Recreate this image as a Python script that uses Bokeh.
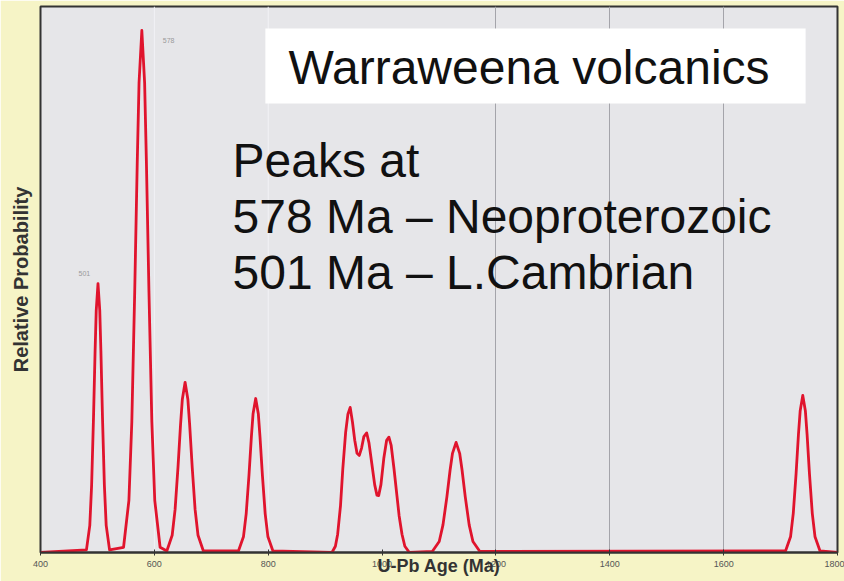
from bokeh.plotting import figure
from bokeh.models import Range1d, Label, BoxAnnotation, FixedTicker, Span
from bokeh.embed import file_html
from bokeh.resources import INLINE

# ---- data (age in Ma, relative probability; tallest peak = 1) ----
base_start_age = [400.0]
base_start_prob = [0.0]

p501_age = [480.7, 486.6, 489.8, 493.1, 495.9, 497.9, 501.0, 504.1, 506.1, 508.9, 512.2, 515.4, 521.3]
p501_prob = [0.005, 0.052, 0.129, 0.258, 0.386, 0.464, 0.515, 0.464, 0.386, 0.258, 0.129, 0.052, 0.005]

p578_age = [545.9, 555.3, 560.4, 565.5, 570.0, 573.1, 578.0, 582.9, 586.0, 590.5, 595.6, 600.7, 610.1]
p578_prob = [0.01, 0.10, 0.25, 0.50, 0.75, 0.90, 1.00, 0.90, 0.75, 0.50, 0.25, 0.10, 0.01]

p655_age = [621.9, 631.3, 636.4, 641.5, 646.0, 649.1, 654.0, 658.9, 662.0, 666.5, 671.6, 676.7, 686.1]
p655_prob = [0.003, 0.033, 0.082, 0.163, 0.245, 0.293, 0.326, 0.293, 0.245, 0.163, 0.082, 0.033, 0.003]

p780_age = [747.7, 756.5, 761.3, 766.2, 770.4, 773.4, 778.0, 782.6, 785.6, 789.8, 794.7, 799.5, 808.3]
p780_prob = [0.003, 0.030, 0.074, 0.148, 0.221, 0.266, 0.295, 0.266, 0.221, 0.148, 0.074, 0.030, 0.003]

cluster_age = [912, 918, 922, 927, 931, 936, 940, 944, 948, 952, 956, 960, 964, 968, 973, 977,
               982, 987, 991, 994, 998, 1003, 1008, 1012, 1016, 1021, 1026, 1030, 1035, 1040, 1048]
cluster_prob = [0.0, 0.012, 0.035, 0.09, 0.16, 0.23, 0.265, 0.278, 0.25, 0.215, 0.19, 0.186, 0.2,
                0.222, 0.229, 0.21, 0.17, 0.13, 0.11, 0.109, 0.13, 0.18, 0.215, 0.221, 0.205,
                0.16, 0.11, 0.07, 0.035, 0.012, 0.0]

p1130_age = [1088.2, 1100.4, 1107.0, 1113.8, 1119.5, 1123.7, 1130.0, 1136.3, 1140.5, 1146.2, 1153.0, 1159.6, 1171.8]
p1130_prob = [0.002, 0.021, 0.053, 0.106, 0.158, 0.190, 0.211, 0.190, 0.158, 0.106, 0.053, 0.021, 0.002]

p1750_age = [1708.7, 1717.5, 1722.3, 1727.2, 1731.4, 1734.4, 1739.0, 1743.6, 1746.6, 1750.8, 1755.7, 1760.5, 1769.3]
p1750_prob = [0.003, 0.030, 0.075, 0.150, 0.226, 0.271, 0.301, 0.271, 0.226, 0.150, 0.075, 0.030, 0.003]

base_end_age = [1800.0]
base_end_prob = [0.0]

x_ticks = [400, 600, 800, 1000, 1200, 1400, 1600, 1800]
grid_dark = [1200, 1400, 1600]
grid_light = [600, 800]

peak_label_text = ["501", "578"]
peak_label_age = [477, 625]
peak_label_prob = [0.534, 0.981]

title_text = "Warraweena volcanics"
note_lines = ["Peaks at", "578 Ma \u2013 Neoproterozoic", "501 Ma \u2013 L.Cambrian"]

ages = (base_start_age + p501_age + p578_age + p655_age + p780_age + cluster_age
        + p1130_age + p1750_age + base_end_age)
probs = (base_start_prob + p501_prob + p578_prob + p655_prob + p780_prob + cluster_prob
         + p1130_prob + p1750_prob + base_end_prob)

# ---- figure ----
p = figure(width=844, height=581, output_backend="svg", toolbar_location=None,
           x_range=Range1d(400, 1800), y_range=Range1d(0, 1.046),
           min_border_left=40, min_border_right=7, min_border_top=6, min_border_bottom=29)

p.background_fill_color = "#e6e6e9"
p.border_fill_color = "#f6f4c6"
p.outline_line_color = "#333333"
p.outline_line_width = 2

# grid lines
p.xgrid.ticker = FixedTicker(ticks=grid_dark)
p.xgrid.grid_line_color = "#a4a4aa"
p.xgrid.grid_line_width = 1
p.ygrid.grid_line_color = None
for g in grid_light:
    p.add_layout(Span(location=g, dimension="height", line_color="#f2f2f6", line_width=1,
                      level="underlay"))

# x axis
p.xaxis.ticker = FixedTicker(ticks=x_ticks)
p.xaxis.axis_line_color = "#333333"
p.xaxis.axis_line_width = 2
p.xaxis.major_tick_line_color = "#333333"
p.xaxis.major_tick_in = 3
p.xaxis.major_tick_out = 3
p.xaxis.minor_tick_line_color = None
p.xaxis.major_label_text_font = "Liberation Sans"
p.xaxis.major_label_text_font_size = "9px"
p.xaxis.major_label_text_color = "#555555"
p.xaxis.major_label_standoff = 5
p.xaxis.axis_label = "U-Pb Age (Ma)"
p.xaxis.axis_label_text_font = "Liberation Sans"
p.xaxis.axis_label_text_font_size = "18px"
p.xaxis.axis_label_text_font_style = "bold"
p.xaxis.axis_label_text_color = "#333333"
p.xaxis.axis_label_standoff = -14

# y axis (label only)
p.yaxis.ticker = FixedTicker(ticks=[])
p.yaxis.major_tick_line_color = None
p.yaxis.minor_tick_line_color = None
p.yaxis.axis_line_color = None
p.yaxis.axis_label = "Relative Probability"
p.yaxis.axis_label_text_font = "Liberation Sans"
p.yaxis.axis_label_text_font_size = "20px"
p.yaxis.axis_label_text_font_style = "bold"
p.yaxis.axis_label_text_color = "#333333"
p.yaxis.axis_label_standoff = 9

# curve
p.line(ages, probs, line_color="#e0142d", line_width=2.8, line_join="round")

# small peak labels
for t, a, pr in zip(peak_label_text, peak_label_age, peak_label_prob):
    p.add_layout(Label(x=a, y=pr, text=t, text_font="Liberation Sans", text_font_size="7px",
                       text_color="#9a9a9a", text_align="center", text_baseline="middle"))

# white title box
p.add_layout(BoxAnnotation(left=795, right=1744, bottom=0.860, top=1.004,
                           fill_color="white", fill_alpha=1.0, line_color=None, level="overlay"))

p.add_layout(Label(x=835.6, y=0.929, text=title_text, text_font="Liberation Sans",
                   text_font_size="48px", text_color="#111111", text_baseline="alphabetic",
                   level="overlay"))

for i, line in enumerate(note_lines):
    p.add_layout(Label(x=737.3, y=0.751 - i * 0.1075, text=line, text_font="Liberation Sans",
                       text_font_size="48px", text_color="#111111", text_baseline="alphabetic",
                       level="overlay"))

open("out.html", "w").write(file_html(p, INLINE))
